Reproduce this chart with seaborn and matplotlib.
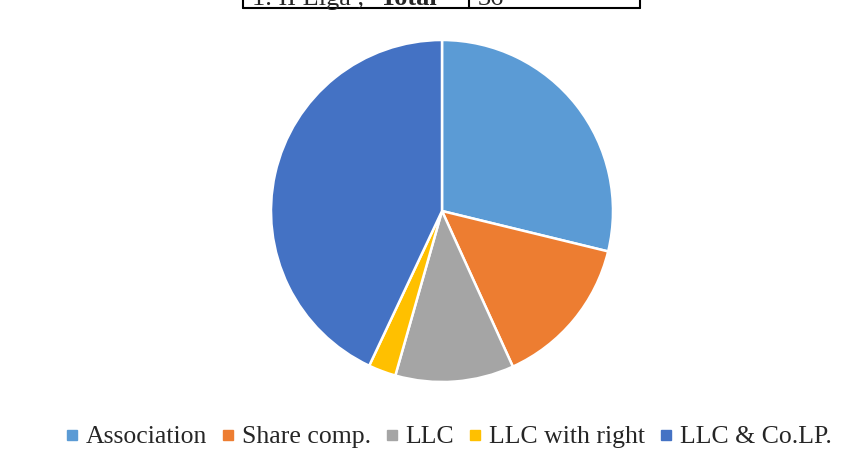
import matplotlib.pyplot as plt
import seaborn as sns
from matplotlib.lines import Line2D

labels = ["Association", "Share comp.", "LLC", "LLC with right", "LLC & Co.LP."]
shares = [28.8, 14.4, 11.2, 2.6, 43.0]
colors = ["#5B9BD5", "#ED7D31", "#A5A5A5", "#FFC000", "#4472C4"]
table_row = ["1. II Liga , ", "Total", "36"]


def legal_form_pie():
    sns.set_theme(style="white")
    plt.rcParams["font.family"] = ["Liberation Serif", "DejaVu Serif"]

    W, H = 859, 468
    fig = plt.figure(figsize=(W / 100, H / 100), dpi=100)

    cx, cy, r = 442, 211, 171
    ax = fig.add_axes([(cx - r) / W, (H - cy - r) / H, 2 * r / W, 2 * r / H])
    ax.pie(
        shares,
        colors=colors,
        startangle=90,
        counterclock=False,
        wedgeprops={"edgecolor": "white", "linewidth": 1.8},
    )
    ax.set_xlim(-1, 1)
    ax.set_ylim(-1, 1)
    ax.set_aspect("equal")
    ax.axis("off")

    # table row cut off at the top of the page (as in the source screenshot)
    y_bot = 1 - 7.5 / H
    fig.add_artist(Line2D([243 / W, 640 / W], [y_bot, y_bot], color="black", lw=1.5))
    for xv in [243, 469, 640]:
        fig.add_artist(Line2D([xv / W, xv / W], [y_bot, 1.01], color="black", lw=1.5))
    base = 1 - 5 / H
    fig.text(252 / W, base, table_row[0], fontsize=19, va="baseline")
    fig.text(380 / W, base, table_row[1], fontsize=19, va="baseline", fontweight="bold")
    fig.text(478 / W, base, table_row[2], fontsize=19, va="baseline")

    handles = [
        Line2D([], [], marker="s", linestyle="none", markersize=6.5, color=c)
        for c in colors
    ]
    fig.legend(
        handles,
        labels,
        loc="center",
        bbox_to_anchor=(449 / W, 1 - 437 / H),
        ncol=5,
        frameon=False,
        fontsize=18.5,
        handlelength=0.4,
        handletextpad=0.35,
        columnspacing=0.6,
    )

    fig.savefig("out.png", dpi=100)


if __name__ == "__main__":
    legal_form_pie()
